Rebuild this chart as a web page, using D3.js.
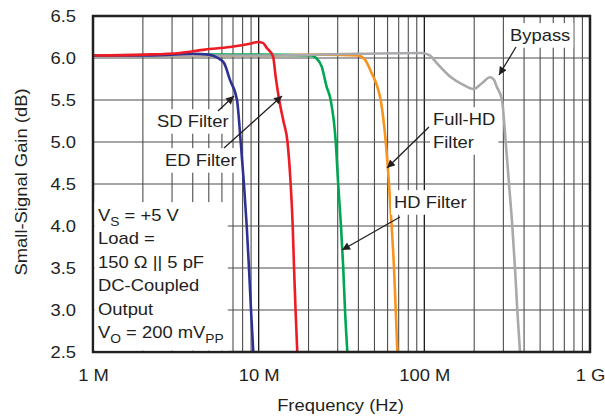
<!DOCTYPE html>
<html lang="en">
<head>
<meta charset="UTF-8">
<title>Small-Signal Gain vs Frequency</title>
<script src="https://d3js.org/d3.v7.min.js"></script>
<style>
  body { margin: 0; background: #fff; }
  svg text { font-family: "Liberation Sans", Arial, sans-serif; fill: #231f20; }
  .grid line { stroke: #4d4d4d; stroke-width: 1.1px; }
  .grid line.major { stroke: #1a1a1a; stroke-width: 1.3px; }
  .axis path, .axis line { display: none; }
  .axis text { font-size: 16px; }
</style>
</head>
<body>
<svg id="chart" width="605" height="416"></svg>
<script>
// ---- data (frequency in MHz, gain in dB) ----
var sdFreq = [1, 2, 3, 4, 5, 5.68, 6.18, 6.71, 7.4, 7.79, 8.15, 8.47, 8.74, 8.99, 9.28];
var sdGain = [6.03, 6.03, 6.04, 6.05, 6.04, 6.0, 5.94, 5.74, 5.5, 5.0, 4.5, 4.0, 3.5, 3.0, 2.5];

var edFreq = [1, 2, 3.35, 4.74, 6.71, 8.87, 9.9, 10.6, 11.2, 12.2, 12.7, 13.3, 14.1, 14.93, 15.6, 16.05, 16.35, 16.7, 17.1];
var edGain = [6.03, 6.04, 6.06, 6.1, 6.13, 6.17, 6.19, 6.18, 6.12, 6.02, 5.76, 5.5, 5.25, 5.0, 4.5, 4.0, 3.5, 3.0, 2.5];

var hdFreq = [1, 5, 10, 20.9, 22.2, 24, 25.7, 27.2, 29.2, 30.2, 31.4, 32.4, 33.2, 34.3];
var hdGain = [6.03, 6.04, 6.04, 6.03, 6.0, 5.9, 5.66, 5.5, 5.0, 4.5, 4.0, 3.5, 3.0, 2.5];

var fhdFreq = [1, 10, 25, 39.9, 43.8, 48.1, 52.0, 54.5, 58.5, 61.2, 63.5, 65.6, 67.2, 68.7];
var fhdGain = [6.03, 6.03, 6.04, 6.03, 5.98, 5.82, 5.66, 5.5, 5.0, 4.5, 4.0, 3.5, 3.0, 2.5];

var bypFreq = [1, 10, 40, 96.4, 108, 118.8, 142.9, 171.9, 197.5, 222.8, 249, 263.4, 273.4, 294.3, 309.8, 324.4, 339.6, 352.5, 364, 378];
var bypGain = [6.03, 6.03, 6.05, 6.06, 6.03, 5.94, 5.78, 5.68, 5.63, 5.7, 5.77, 5.74, 5.66, 5.5, 5.0, 4.5, 4.0, 3.5, 3.0, 2.5];

var seriesNames = ["SD Filter", "ED Filter", "HD Filter", "Full-HD Filter", "Bypass"];
var seriesColors = ["#2e3192", "#ed1c24", "#00a651", "#f7941d", "#a7a9ac"];

var xTickValues = [1, 10, 100, 1000];
var xTickLabels = ["1 M", "10 M", "100 M", "1 G"];
var yTickValues = [2.5, 3.0, 3.5, 4.0, 4.5, 5.0, 5.5, 6.0, 6.5];

// subscripts written as {..}
var noteLines = ["V{S} = +5 V", "Load =", "150 \u03A9 || 5 pF", "DC-Coupled", "Output", "V{O} = 200 mV{PP}"];

// ---- layout ----
var margin = {left: 93, top: 16, right: 15, bottom: 64};
var width = 605 - margin.left - margin.right;
var height = 416 - margin.top - margin.bottom;
var S = 1.15; // horizontal stretch of the lettering

var svg = d3.select("#chart");
var g = svg.append("g").attr("transform", "translate(" + margin.left + "," + margin.top + ")");

var x = d3.scaleLog().domain([1, 1000]).range([0, width]);
var y = d3.scaleLinear().domain([2.5, 6.5]).range([height, 0]);

// grid
var minor = [];
for (var dec = 1; dec < 1000; dec *= 10) {
  for (var k = 2; k <= 9; k++) minor.push(dec * k);
}
var grid = g.append("g").attr("class", "grid");
grid.selectAll("line.v").data(minor.concat([10, 100]))
  .enter().append("line")
  .attr("class", function(d) { return (d == 10 || d == 100) ? "v major" : "v"; })
  .attr("x1", function(d) { return x(d); })
  .attr("x2", function(d) { return x(d); })
  .attr("y1", 0).attr("y2", height);
grid.selectAll("line.h").data(yTickValues.slice(1, -1))
  .enter().append("line")
  .attr("class", "h")
  .attr("x1", 0).attr("x2", width)
  .attr("y1", function(d) { return y(d); })
  .attr("y2", function(d) { return y(d); });

// axes
var xAxis = d3.axisBottom(x).tickValues(xTickValues)
  .tickFormat(function(d, i) { return xTickLabels[i]; }).tickSize(0).tickPadding(18);
g.append("g").attr("class", "axis").attr("transform", "translate(0," + height + ")").call(xAxis)
  .selectAll("text").attr("transform", "scale(" + S + ",1)");

var yAxis = d3.axisLeft(y).tickValues(yTickValues).tickFormat(d3.format(".1f")).tickSize(0);
g.append("g").attr("class", "axis").call(yAxis)
  .selectAll("text").attr("x", 0).attr("transform", "translate(-17,0) scale(" + S + ",1)");

svg.append("text").attr("transform", "translate(" + (margin.left + width / 2 - 1) + ",411) scale(" + S + ",1)")
  .attr("text-anchor", "middle").style("font-size", "16px").text("Frequency (Hz)");
svg.append("text").attr("transform", "translate(27," + 182 + ") rotate(-90) scale(" + S + ",1)")
  .attr("text-anchor", "middle").style("font-size", "16px").text("Small-Signal Gain (dB)");

// curves
var line = d3.line()
  .x(function(d) { return x(d[0]); })
  .y(function(d) { return y(d[1]); })
  .curve(d3.curveMonotoneX);

var series = [
  d3.zip(sdFreq, sdGain), d3.zip(edFreq, edGain), d3.zip(hdFreq, hdGain),
  d3.zip(fhdFreq, fhdGain), d3.zip(bypFreq, bypGain)
];
var order = [3, 2, 4, 0, 1];
order.forEach(function(i) {
  g.append("path").datum(series[i])
    .attr("fill", "none")
    .attr("stroke", seriesColors[i])
    .attr("stroke-width", 2.6)
    .attr("stroke-linejoin", "round")
    .attr("d", line);
});

// frame
g.append("rect").attr("x", 0).attr("y", 0).attr("width", width).attr("height", height)
  .attr("fill", "none").attr("stroke", "#231f20").attr("stroke-width", 2.5);

// arrow marker
svg.append("defs").append("marker")
  .attr("id", "arr").attr("viewBox", "0 0 10 10").attr("refX", 10).attr("refY", 5)
  .attr("markerWidth", 12).attr("markerHeight", 8).attr("markerUnits", "userSpaceOnUse")
  .attr("orient", "auto")
  .append("path").attr("d", "M0,0 L10,5 L0,10 z").attr("fill", "#231f20");

// group whose lettering is stretched around x = ax
function stretched(ax) {
  return svg.append("g").attr("transform", "translate(" + (ax * (1 - S)) + ",0) scale(" + S + ",1)");
}
function label(lines, lx, ly, pad) {
  var grp = stretched(lx);
  var bg = grp.append("rect").attr("fill", "#fff");
  var t = grp.append("text").style("font-size", "16px");
  lines.forEach(function(s, i) {
    t.append("tspan").attr("x", lx).attr("y", ly + i * 23).text(s);
  });
  var b = t.node().getBBox();
  bg.attr("x", b.x - pad / S).attr("y", b.y - pad).attr("width", b.width + 2 * pad / S).attr("height", b.height + 2 * pad);
}
function arrow(x1, y1, x2, y2) {
  svg.append("line").attr("x1", x1).attr("y1", y1).attr("x2", x2).attr("y2", y2)
    .attr("stroke", "#231f20").attr("stroke-width", 1.3).attr("marker-end", "url(#arr)");
}

// annotations
label([seriesNames[0]], 157, 127, 3);
arrow(218, 111, 234, 96);
label([seriesNames[1]], 165, 166, 3);
arrow(224, 148, 282, 96);
label(["Full-HD", "Filter"], 433, 125, 3);
arrow(429, 127, 387, 168);
label([seriesNames[2]], 394, 208, 3);
arrow(400, 217, 342, 250);
label([seriesNames[4]], 510, 41, 3);
arrow(516, 47, 499, 75);

// conditions note in lower-left
var noteX = 98;
var noteBg = svg.append("rect").attr("fill", "#fff");
var note = stretched(noteX);
var nt = note.append("text").style("font-size", "16px");
noteLines.forEach(function(s, i) {
  var parts = s.split(/[{}]/);
  nt.append("tspan").attr("x", noteX).attr("y", 221 + i * 23.4).text(parts[0]);
  for (var p = 1; p < parts.length; p += 2) {
    nt.append("tspan").attr("dy", 5).style("font-size", "12px").text(parts[p]);
    if (p + 1 < parts.length) nt.append("tspan").attr("dy", -5).text(parts[p + 1]);
  }
});
var nb = nt.node().getBBox();
var right = noteX + (nb.x + nb.width - noteX) * S + 4;
noteBg.attr("x", margin.left + 1.5).attr("y", nb.y - 4)
  .attr("width", right - margin.left - 1.5).attr("height", margin.top + height - 1.5 - (nb.y - 4));
note.raise();
</script>
</body>
</html>
